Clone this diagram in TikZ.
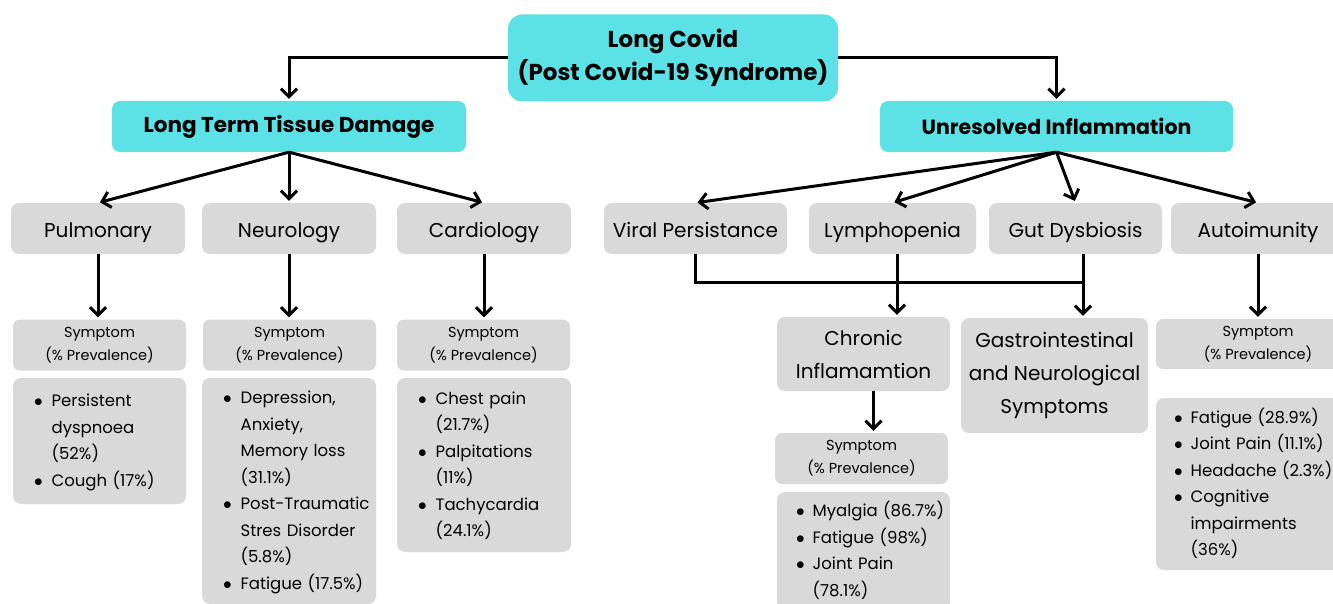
\documentclass[tikz,border=0pt]{standalone}
\usepackage{fontspec}
\setmainfont{Poppins}
\usetikzlibrary{arrows.meta,positioning}
\definecolor{covidcyan}{HTML}{5CE1E6}
\definecolor{boxgrey}{HTML}{D9D9D9}

\begin{document}
\begin{tikzpicture}[x=1pt,y=-1pt,
    head/.style={fill=covidcyan, rounded corners=8pt, minimum width=#1,
                 minimum height=51pt, align=center, font=\fontsize{20.5}{24}\selectfont\bfseries},
    cat/.style={fill=boxgrey, rounded corners=8pt, minimum width=#1,
                minimum height=51pt, align=center, font=\fontsize{20}{33}\selectfont},
    one/.style={text height=18pt, text depth=0pt},
    sym/.style={fill=boxgrey, rounded corners=7pt, minimum width=#1,
                minimum height=51pt, align=center, font=\fontsize{14.5}{23}\selectfont},
    lst/.style={fill=boxgrey, rounded corners=8pt, text width=#1, inner xsep=21pt,
                align=left, font=\fontsize{16.5}{26.5}\selectfont},
    arr/.style={-{Straight Barb[length=8pt,width=16pt]}, line width=3pt, shorten >=2pt},
    lnk/.style={line width=3pt}
  ]
  \useasboundingbox (0,0) rectangle (1333,604);
  \clip (0,0) rectangle (1333,604);

  %% ---- top ----
  \node[head=330pt, minimum height=87pt, rounded corners=14pt,
        font=\fontsize{23}{33}\selectfont\bfseries] (root) at (673,58)
        {Long Covid\\(Post Covid-19 Syndrome)};
  \node[head=354pt, font=\fontsize{21.5}{24}\selectfont\bfseries] (ltd)
        at (289,126.5) {Long Term Tissue Damage};
  \node[head=353pt] (ui)  at (1056.5,126.5) {Unresolved Inflammation};

  \draw[arr] (root.west) -| (ltd);
  \draw[arr] (root.east) -| (ui);

  %% ---- Long Term Tissue Damage branch ----
  \node[cat=174pt, one] (pul) at (98,228.5)  {Pulmonary};
  \node[cat=174pt, one] (neu) at (289,228.5) {Neurology};
  \node[cat=174pt, one] (car) at (484,228.5) {Cardiology};

  \draw[arr] (ltd.south) -- (pul.north);
  \draw[arr] (ltd.south) -- (neu.north);
  \draw[arr] (ltd.south) -- (car.north);

  \node[sym=173pt] (pul_s) at (99.5,345)  {Symptom\\(\% Prevalence)};
  \node[sym=173pt] (neu_s) at (289.5,345) {Symptom\\(\% Prevalence)};
  \node[sym=173pt] (car_s) at (483.5,345) {Symptom\\(\% Prevalence)};

  \draw[arr] (pul.south) -- (pul.south |- pul_s.north);
  \draw[arr] (neu.south) -- (neu.south |- neu_s.north);
  \draw[arr] (car.south) -- (car.south |- car_s.north);

  \node[lst=131pt, minimum height=126pt] (pul_l) at (99.5,441) {%
    \begin{tabular}{@{}l@{\hspace{9pt}}l@{}}
      $\bullet$ & Persistent\\
                & dyspnoea\\
                & (52\%)\\
      $\bullet$ & Cough (17\%)
    \end{tabular}};
  \node[lst=132pt, minimum height=226pt] (neu_l) at (289,491) {%
    \begin{tabular}{@{}l@{\hspace{9pt}}l@{}}
      $\bullet$ & Depression,\\
                & Anxiety,\\
                & Memory loss\\
                & (31.1\%)\\
      $\bullet$ & Post-Traumatic\\
                & Stres Disorder\\
                & (5.8\%)\\
      $\bullet$ & Fatigue (17.5\%)
    \end{tabular}};
  \node[lst=132pt, minimum height=174pt] (car_l) at (484,465) {%
    \begin{tabular}{@{}l@{\hspace{9pt}}l@{}}
      $\bullet$ & Chest pain\\
                & (21.7\%)\\
      $\bullet$ & Palpitations\\
                & (11\%)\\
      $\bullet$ & Tachycardia\\
                & (24.1\%)
    \end{tabular}};

  %% ---- Unresolved Inflammation branch ----
  \node[cat=183pt, one] (vir) at (695.5,228.5)  {Viral Persistance};
  \node[cat=167pt, one] (lym) at (892.5,228.5)  {Lymphopenia};
  \node[cat=173pt, one] (gut) at (1075.5,228.5) {Gut Dysbiosis};
  \node[cat=174pt, one] (aut) at (1258,228.5)   {Autoimunity};

  \draw[arr] (ui.south) -- (vir.north);
  \draw[arr] (ui.south) -- (lym.north);
  \draw[arr] (ui.south) -- (gut.north);
  \draw[arr] (ui.south) -- (aut.north);

  \node[cat=173pt, minimum height=74pt]  (chr) at (863.5,354)
        {Chronic\\Inflamamtion};
  \node[cat=187pt, minimum height=115pt] (gas) at (1054.5,375.5)
        {Gastrointestinal\\and Neurological\\Symptoms};

  \coordinate (jL) at (897,282);
  \coordinate (jG) at (1083,282);
  \draw[lnk] (vir.south) |- (jG);
  \draw[arr] (jL |- lym.south) -- (jL |- chr.north);
  \draw[arr] (jG |- gut.south) -- (jG |- gas.north);

  \node[sym=173pt] (chr_s) at (861.5,458.5) {Symptom\\(\% Prevalence)};
  \node[sym=204pt, minimum height=50pt] (aut_s) at (1258,344)
        {Symptom\\(\% Prevalence)};

  \coordinate (cA) at ([xshift=10pt]chr.south);
  \draw[arr] (cA) -- (cA |- chr_s.north);
  \draw[arr] (aut.south) -- (aut.south |- aut_s.north);

  \node[lst=135pt, inner xsep=19pt, minimum height=118pt] (chr_l) at (863.5,551) {%
    \begin{tabular}{@{}l@{\hspace{8pt}}l@{}}
      $\bullet$ & Myalgia (86.7\%)\\
      $\bullet$ & Fatigue (98\%)\\
      $\bullet$ & Joint Pain\\
                & (78.1\%)
    \end{tabular}};
  \node[lst=168pt, inner xsep=18pt, minimum height=172pt] (aut_l) at (1258,484) {%
    \begin{tabular}{@{}l@{\hspace{8pt}}l@{}}
      $\bullet$ & Fatigue (28.9\%)\\
      $\bullet$ & Joint Pain (11.1\%)\\
      $\bullet$ & Headache (2.3\%)\\
      $\bullet$ & Cognitive\\
                & impairments\\
                & (36\%)
    \end{tabular}};

\end{tikzpicture}
\end{document}
